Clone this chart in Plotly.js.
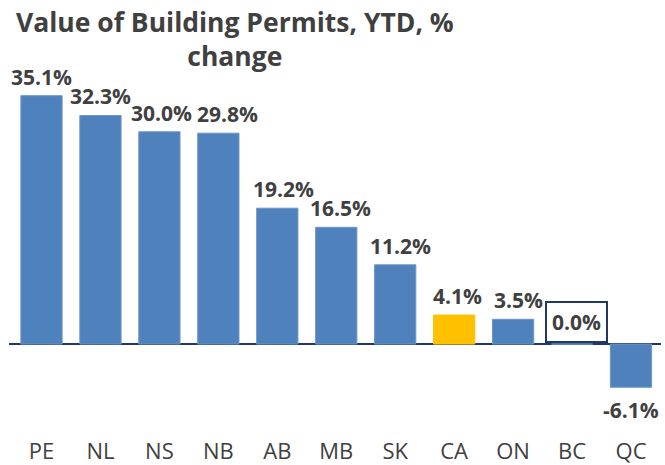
<!DOCTYPE html>
<html>
<head>
<meta charset="utf-8">
<script src="https://cdn.plot.ly/plotly-3.0.1.min.js"></script>
<style>html,body{margin:0;padding:0;background:#fff;}#chart{width:665px;height:465px;}</style>
</head>
<body>
<div id="chart"></div>
<script>
const regions = ["PE","NL","NS","NB","AB","MB","SK","CA","ON","BC","QC"];
const changes = [35.1, 32.3, 30.0, 29.8, 19.2, 16.5, 11.2, 4.1, 3.5, 0.0, -6.1];
const highlight = "CA";
const boxed = "BC";
const titleText = "Value of Building Permits, YTD, %<br>change";

const blue = "#4F81BD", gold = "#FFC000", textCol = "#404040", navy = "#1F3864";
const fmt = v => v.toFixed(1) + "%";
// small horizontal nudges of data labels (style only)
const labelNudge = {NS: 2, NB: 9, AB: 6, MB: 4, SK: 5, CA: 3, ON: 5, BC: 4};

const trace = {
  type: "bar",
  x: regions,
  y: changes,
  marker: {color: regions.map(r => r === highlight ? gold : blue),
           line: {color: regions.map(r => r === highlight ? gold : "#6C95C8"), width: 1}},
  hoverinfo: "skip"
};

const annotations = regions.map((r, i) => {
  const v = changes[i];
  const a = {x: r, y: v, xref: "x", yref: "y", text: "<b>" + fmt(v) + "</b>", showarrow: false,
             xshift: labelNudge[r] || 0,
             font: {family: "Open Sans", size: 21, color: textCol}};
  if (r === boxed) {
    Object.assign(a, {yanchor: "bottom", yshift: 1, bordercolor: navy, borderwidth: 2, borderpad: 5, bgcolor: "#fff"});
  } else if (v < 0) {
    Object.assign(a, {yanchor: "top", yshift: -7});
  } else {
    Object.assign(a, {yanchor: "bottom", yshift: 3});
  }
  return a;
});

annotations.push({
  xref: "paper", yref: "paper", x: 0.3466, y: 1.16, xanchor: "center", yanchor: "top",
  text: "<b>" + titleText + "</b>", showarrow: false, align: "center",
  font: {family: "Open Sans", size: 26.5, color: textCol}
});

const layout = {
  width: 665, height: 465,
  margin: {l: 9, r: 4, t: 61, b: 36},
  paper_bgcolor: "#fff", plot_bgcolor: "#fff",
  showlegend: false,
  bargap: 0.3,
  xaxis: {showline: false, showgrid: false, zeroline: false, ticks: "", ticklabelstandoff: 7,
          tickfont: {family: "Open Sans", size: 22, color: textCol}, fixedrange: true},
  yaxis: {range: [-12, 40], showgrid: false, showticklabels: false, showline: false,
          zeroline: true, zerolinecolor: navy, zerolinewidth: 2, ticks: ""},
  annotations: annotations
};

Plotly.newPlot("chart", [trace], layout, {displayModeBar: false, staticPlot: true});
</script>
</body>
</html>
